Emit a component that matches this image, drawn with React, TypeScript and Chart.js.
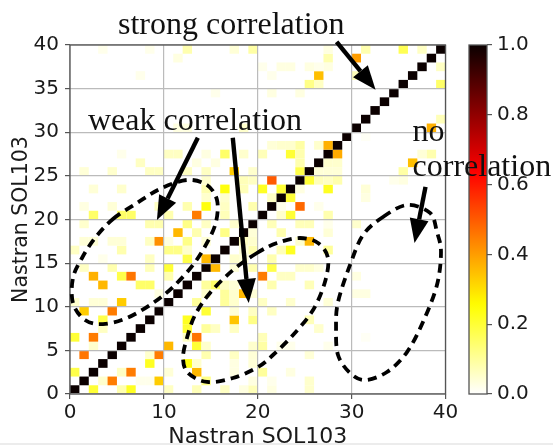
import React, { useEffect, useRef } from "react";
import { Chart, registerables } from "chart.js";

Chart.register(...registerables);

// Each row lists [column, correlation] pairs of the non-blank cells.
const row39 = [[3,.02],[8,.02],[12,.08],[17,.04],[19,.09],[27,.03],[31,.08],[35,.17],[37,.06],[39,1]];
const row38 = [[11,.03],[27,.08],[30,.4],[38,1]];
const row37 = [[20,.02],[22,.03],[23,.03],[25,.03],[26,.02],[27,.03],[37,1],[39,.06]];
const row36 = [[7,.02],[21,.02],[26,.35],[30,.07],[36,1]];
const row35 = [[25,.12],[26,.06],[35,1],[39,.15]];
const row34 = [[15,.02],[21,.03],[24,.03],[34,1]];
const row33 = [[33,1]];
const row32 = [[32,1]];
const row31 = [[31,1],[39,.07]];
const row30 = [[11,.03],[12,.03],[18,.05],[30,1],[38,.37]];
const row29 = [[29,1],[31,.01]];
const row28 = [[21,.04],[22,.05],[23,.05],[24,.09],[26,.05],[27,.37],[28,1]];
const row27 = [[5,.02],[10,.06],[11,.06],[14,.03],[16,.15],[18,.05],[20,.07],[23,.2],[24,.08],[27,1],[28,.38],[37,.04],[38,.08]];
const row26 = [[7,.06],[13,.03],[15,.03],[24,.08],[26,1],[27,.05],[28,.05],[36,.35]];
const row25 = [[1,.04],[4,.05],[8,.06],[9,.06],[12,.06],[14,.06],[17,.33],[19,.05],[24,.18],[25,1],[26,.04],[27,.04],[28,.04],[35,.09]];
const row24 = [[14,.05],[18,.07],[19,.06],[21,.5],[24,1],[25,.2],[26,.07],[27,.06],[28,.08],[34,.02],[35,.03]];
const row23 = [[2,.04],[5,.05],[14,.08],[16,.24],[18,.07],[20,.22],[22,.2],[23,1],[24,.03],[27,.22],[31,.04]];
const row22 = [[14,.05],[16,.05],[21,.06],[22,1],[23,.2],[31,.03]];
const row21 = [[1,.03],[4,.04],[9,.06],[12,.08],[14,.24],[16,.06],[19,.08],[21,1],[22,.02],[24,.48],[26,.02]];
const row20 = [[2,.15],[5,.15],[6,.15],[10,.08],[13,.45],[16,.07],[20,1],[22,.05],[23,.2],[27,.08]];
const row19 = [[1,.05],[8,.08],[9,.08],[12,.12],[14,.06],[17,.05],[19,1],[21,.07],[24,.07],[25,.07],[27,.02],[30,.05]];
const row18 = [[11,.36],[13,.08],[16,.12],[18,1],[19,.04],[22,.08],[27,.04]];
const row17 = [[1,.04],[2,.04],[4,.04],[5,.04],[8,.06],[9,.42],[10,.03],[12,.12],[14,.04],[17,1],[18,.06],[19,.05],[24,.05],[25,.36]];
const row16 = [[0,.06],[5,.08],[10,.12],[11,.12],[12,.05],[16,1],[18,.04],[19,.08],[22,.07],[23,.22],[27,.1]];
const row15 = [[3,.02],[8,.06],[12,.18],[14,.36],[15,1],[17,.05],[18,.04],[21,.08]];
const row14 = [[1,.06],[4,.08],[8,.07],[10,.2],[14,1],[15,.36],[17,.04],[19,.08],[21,.18],[24,.05],[25,.05],[26,.03]];
const row13 = [[2,.37],[5,.18],[6,.46],[10,.08],[13,1],[20,.45],[22,.06],[23,.06],[30,.03]];
const row12 = [[3,.36],[7,.15],[8,.15],[12,1],[14,.1],[15,.15],[16,.06],[17,.04],[21,.08],[25,.07]];
const row11 = [[9,.03],[11,1],[14,.05],[16,.1],[17,.05],[18,.36],[19,.04],[30,.03],[31,.03]];
const row10 = [[0,.05],[2,.04],[3,.04],[5,.33],[10,1],[13,.1],[16,.1],[17,.05],[20,.06],[23,.05],[27,.04]];
const row9 = [[1,.33],[4,.45],[9,1],[14,.2],[17,.04],[19,.06],[21,.06]];
const row8 = [[3,.18],[8,1],[12,.22],[17,.34],[19,.12],[25,.07]];
const row7 = [[3,.06],[7,1],[12,.2],[14,.1],[15,.06],[17,.06],[26,.05]];
const row6 = [[0,.2],[2,.45],[6,1],[12,.06],[13,.46],[20,.07],[31,.01]];
const row5 = [[2,.05],[5,1],[10,.36],[13,.2],[14,.05],[19,.05],[20,.09],[22,.02],[23,.02],[27,.02]];
const row4 = [[1,.46],[4,1],[8,.05],[9,.45],[14,.08],[17,.06],[19,.04],[25,.04]];
const row3 = [[3,1],[8,.22],[12,.24],[13,.05],[17,.03],[19,.04]];
const row2 = [[0,.18],[2,1],[5,.06],[6,.45],[10,.04],[13,.36],[17,.03],[20,.1],[23,.03]];
const row1 = [[1,1],[3,.05],[4,.45],[7,.02],[8,.02],[9,.33],[14,.12],[19,.03],[21,.02],[25,.05]];
const row0 = [[0,1],[2,.2],[5,.08],[6,.22],[10,.06],[13,.07],[16,.06],[18,.03],[19,.07],[21,.03],[25,.05]];

const rows = [row0,row1,row2,row3,row4,row5,row6,row7,row8,row9,row10,row11,row12,row13,row14,row15,row16,row17,row18,row19,
  row20,row21,row22,row23,row24,row25,row26,row27,row28,row29,row30,row31,row32,row33,row34,row35,row36,row37,row38,row39];

const axisLabel = "Nastran SOL103";
const colorbarLabels = [""];
const colorbarRange = [0, 1];

// Annotations, in data coordinates: [text, x, baseline y]
const notes: [string, number, number][] = [
  ["strong correlation", 5.11, 41.28],
  ["weak correlation", 1.91, 30.23],
  ["no", 36.49, 29.0],
  ["correlation", 36.49, 25.0],
];
// Arrows: [fromX, fromY, tipX, tipY]
const arrows = [
  [28.4, 40.37, 32.55, 34.86],
  [13.62, 29.36, 9.26, 19.95],
  [17.34, 29.36, 19.04, 10.44],
  [37.87, 23.74, 36.7, 17.32],
];
// Hand-drawn dashed loops, in data coordinates
const loopUpper = [[4.58,20.06],[7.14,21.89],[9.59,23.5],[12.46,24.53],[14.59,23.95],[15.66,22.23],[15.55,19.71],[14.59,17.31],[13.1,14.79],[10.97,12.26],[8.84,10.43],[6.07,8.71],[3.52,8.02],[1.6,8.48],[0.32,10.43],[0.32,13.3],[1.28,15.59],[2.66,17.88]];
const loopLower = [[19.92,16.16],[17.36,14.21],[14.91,11.58],[13.32,9.05],[12.46,6.42],[12.04,4.13],[12.57,2.41],[14.59,1.38],[17.36,1.83],[20.03,3.09],[21.62,4.47],[23.76,6.76],[25.89,9.63],[27.16,12.84],[27.48,15.59],[26.42,17.31],[24.5,17.88],[22.05,17.31]];
const loopNone = [[33.34,20.29],[35.9,21.66],[38.35,20.75],[39.09,18.57],[39.52,16.28],[39.09,12.49],[37.6,8.25],[35.9,4.81],[33.77,2.52],[31.42,1.6],[29.83,2.41],[28.55,4.47],[28.34,7.56],[28.55,10.54],[29.83,14.79],[31.21,18.22]];
const loops = [loopUpper, loopLower, loopNone];

const SPINE = "#555555";
const INK = "#1a1a1a";
const GRID = "#bbbbbb";
const TICK_FONT = { family: "'DejaVu Sans'", size: 20 };

function hotR(v: number): string {
  const t = 1 - v;
  const c = (x: number) => Math.round(255 * Math.max(0, Math.min(1, x)));
  return `rgb(${c(0.0416 + (t / 0.365) * 0.9584)},${c((t - 0.365) / 0.381)},${c((t - 0.746) / 0.254)})`;
}

const cellsPlugin = {
  id: "cells",
  beforeDatasetsDraw(chart: any) {
    const { ctx, scales: { x, y } } = chart;
    const pts = chart.data.datasets[0].data;
    ctx.save();
    for (const p of pts) {
      const l = x.getPixelForValue(p.x);
      const r = x.getPixelForValue(p.x + 1);
      const t = y.getPixelForValue(p.y + 1);
      const b = y.getPixelForValue(p.y);
      ctx.fillStyle = hotR(p.v);
      ctx.fillRect(l, t, r - l, b - t);
    }
    ctx.restore();
  },
};

function strokeLoop(ctx: CanvasRenderingContext2D, pts: number[][]) {
  const n = pts.length;
  ctx.beginPath();
  ctx.moveTo(pts[0][0], pts[0][1]);
  for (let i = 0; i < n; i++) {
    const p0 = pts[(i - 1 + n) % n];
    const p1 = pts[i];
    const p2 = pts[(i + 1) % n];
    const p3 = pts[(i + 2) % n];
    ctx.bezierCurveTo(
      p1[0] + (p2[0] - p0[0]) / 6, p1[1] + (p2[1] - p0[1]) / 6,
      p2[0] - (p3[0] - p1[0]) / 6, p2[1] - (p3[1] - p1[1]) / 6,
      p2[0], p2[1]
    );
  }
  ctx.closePath();
  ctx.stroke();
}

const annotationPlugin = {
  id: "annotations",
  afterDraw(chart: any) {
    const { ctx, chartArea: a, scales: { x, y } } = chart;
    ctx.save();
    ctx.strokeStyle = SPINE;
    ctx.lineWidth = 1.3;
    ctx.strokeRect(a.left, a.top, a.right - a.left, a.bottom - a.top);

    ctx.strokeStyle = "#000";
    ctx.lineWidth = 3.8;
    ctx.setLineDash([9, 6]);
    for (const loop of loops) {
      strokeLoop(ctx, loop.map(([px, py]) => [x.getPixelForValue(px), y.getPixelForValue(py)]));
    }
    ctx.setLineDash([]);

    ctx.fillStyle = "#000";
    for (const [x0, y0, x1, y1] of arrows) {
      const ax = x.getPixelForValue(x0);
      const ay = y.getPixelForValue(y0);
      const bx = x.getPixelForValue(x1);
      const by = y.getPixelForValue(y1);
      const ang = Math.atan2(by - ay, bx - ax);
      const hl = 24;
      const hw = 9.5;
      const mx = bx - hl * Math.cos(ang);
      const my = by - hl * Math.sin(ang);
      ctx.lineWidth = 4.4;
      ctx.beginPath();
      ctx.moveTo(ax, ay);
      ctx.lineTo(mx, my);
      ctx.stroke();
      ctx.beginPath();
      ctx.moveTo(bx, by);
      ctx.lineTo(mx - hw * Math.sin(ang), my + hw * Math.cos(ang));
      ctx.lineTo(mx + hw * Math.sin(ang), my - hw * Math.cos(ang));
      ctx.closePath();
      ctx.fill();
    }

    ctx.font = "32px 'Liberation Serif'";
    ctx.textBaseline = "alphabetic";
    ctx.textAlign = "left";
    ctx.fillStyle = "#111";
    for (const [t, tx, ty] of notes) {
      ctx.fillText(t, x.getPixelForValue(tx), y.getPixelForValue(ty));
    }
    ctx.restore();
  },
};

const colorbarPlugin = {
  id: "colorbarOutline",
  afterDraw(chart: any) {
    const { ctx, chartArea: a } = chart;
    ctx.save();
    ctx.strokeStyle = SPINE;
    ctx.lineWidth = 1.3;
    ctx.strokeRect(a.left, a.top, a.right - a.left, a.bottom - a.top);
    ctx.restore();
  },
};

export default function App() {
  const mainRef = useRef<HTMLCanvasElement>(null);
  const barRef = useRef<HTMLCanvasElement>(null);

  useEffect(() => {
    const cells: { x: number; y: number; v: number }[] = [];
    rows.forEach((row, r) => row.forEach(([c, v]) => cells.push({ x: c, y: r, v })));

    const main = new Chart(mainRef.current!, {
      type: "scatter",
      data: { datasets: [{ data: cells as any, pointRadius: 0, pointHoverRadius: 0 }] },
      plugins: [cellsPlugin, annotationPlugin],
      options: {
        animation: false,
        responsive: false,
        events: [],
        layout: { padding: { top: 45, right: 107.5, left: 0, bottom: 0 } },
        plugins: { legend: { display: false }, tooltip: { enabled: false } },
        scales: {
          x: {
            type: "linear", min: 0, max: 40,
            afterFit: (s: any) => { s.height = 53; },
            afterBuildTicks: (s: any) => { s.ticks = [0, 10, 20, 30, 40].map((value) => ({ value })); },
            grid: { color: GRID, lineWidth: 1.2, z: 1, tickColor: SPINE, tickLength: 5 },
            border: { display: false },
            ticks: { color: INK, font: TICK_FONT, padding: 2, maxRotation: 0 },
            title: { display: true, text: axisLabel, color: INK, font: { family: "'DejaVu Sans'", size: 22 }, padding: { top: 0, bottom: -3 } },
          },
          y: {
            type: "linear", min: 0, max: 40,
            afterFit: (s: any) => { s.width = 70; },
            afterBuildTicks: (s: any) => { s.ticks = [0, 5, 10, 15, 20, 25, 30, 35, 40].map((value) => ({ value })); },
            grid: { color: GRID, lineWidth: 1.2, z: 1, tickColor: SPINE, tickLength: 5 },
            border: { display: false },
            ticks: { color: INK, font: TICK_FONT, padding: 6 },
            title: { display: true, text: axisLabel, color: INK, font: { family: "'DejaVu Sans'", size: 20.5 }, padding: { top: 9, bottom: 0 } },
          },
        },
      },
    } as any);

    const bar = new Chart(barRef.current!, {
      type: "bar",
      data: {
        labels: colorbarLabels,
        datasets: [{
          data: [colorbarRange] as any,
          barPercentage: 1,
          categoryPercentage: 1,
          backgroundColor: (ctx: any) => {
            const area = ctx.chart.chartArea;
            if (!area) return "#fff";
            const g = ctx.chart.ctx.createLinearGradient(0, area.bottom, 0, area.top);
            for (let i = 0; i <= 50; i++) g.addColorStop(i / 50, hotR(i / 50));
            return g;
          },
        }],
      },
      plugins: [colorbarPlugin],
      options: {
        animation: false,
        responsive: false,
        events: [],
        layout: { padding: { top: 45, left: 469, right: 0, bottom: 53 } },
        plugins: { legend: { display: false }, tooltip: { enabled: false } },
        scales: {
          x: { display: false },
          y: {
            position: "right", min: 0, max: 1,
            afterFit: (s: any) => { s.width = 66; },
            afterBuildTicks: (s: any) => { s.ticks = [0, 0.2, 0.4, 0.6, 0.8, 1].map((value) => ({ value })); },
            grid: { drawOnChartArea: false, tickColor: SPINE, tickLength: 5, lineWidth: 1.2 },
            border: { display: false },
            ticks: { color: INK, font: TICK_FONT, padding: 5, callback: (v: any) => Number(v).toFixed(1) },
          },
        },
      },
    } as any);

    return () => { main.destroy(); bar.destroy(); };
  }, []);

  const layer: React.CSSProperties = { position: "absolute", left: 0, top: 0, filter: "blur(0.4px)" };
  return (
    <div style={{ position: "absolute", left: 0, top: 0, width: 553, height: 447, background: "#fff", overflow: "hidden" }}>
      <div style={{ position: "absolute", left: 0, right: 0, top: 443, height: 2, background: "#ececec" }} />
      <canvas ref={barRef} width={553} height={447} style={layer} />
      <canvas ref={mainRef} width={553} height={447} style={layer} />
    </div>
  );
}
